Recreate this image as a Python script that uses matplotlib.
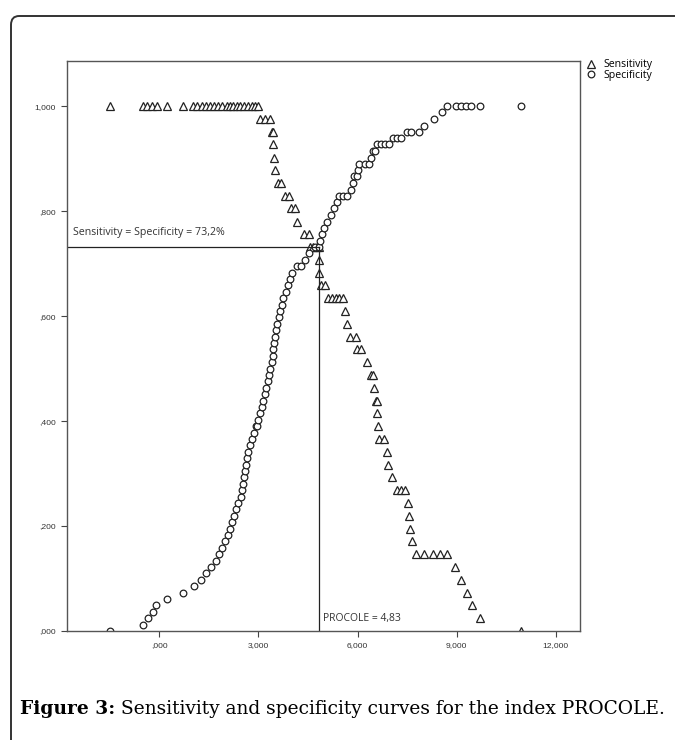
import matplotlib
matplotlib.use("Agg")
import matplotlib.pyplot as plt
from matplotlib.patches import FancyBboxPatch

# sensitivity (triangles)
sens_x = [-1.50, -0.50, -0.38, -0.23, -0.08, 0.23, 0.71, 1.01, 1.13, 1.28, 1.40, 1.53, 1.65,
          1.77, 1.89, 2.04, 2.13, 2.22, 2.34, 2.43, 2.55, 2.67, 2.79, 2.88, 2.98,
          3.04, 3.19, 3.34, 3.41, 3.45, 3.45, 3.47, 3.50, 3.58, 3.68, 3.79, 3.94, 4.00, 4.12,
          4.18, 4.37, 4.52, 4.55, 4.64, 4.76, 4.83, 4.82, 4.83, 4.88, 5.03,
          5.12, 5.24, 5.36, 5.45, 5.55, 5.63, 5.69, 5.76, 5.95, 5.97, 6.12, 6.30, 6.42, 6.48,
          6.51, 6.55, 6.58, 6.60, 6.62, 6.66, 6.80, 6.90, 6.93, 7.05, 7.21, 7.33, 7.45,
          7.54, 7.57, 7.60, 7.66, 7.78, 8.02, 8.29, 8.50, 8.72, 8.96, 9.14, 9.32, 9.47, 9.71, 10.95]
sens_y = [1.0] * 25 + [0.976, 0.976, 0.976, 0.951, 0.951, 0.927, 0.902, 0.878, 0.854, 0.854,
          0.829, 0.829, 0.805, 0.805, 0.780, 0.756, 0.756, 0.732, 0.732, 0.732, 0.732,
          0.707, 0.683, 0.659, 0.659, 0.634, 0.634, 0.634, 0.634, 0.634, 0.610, 0.585,
          0.561, 0.561, 0.537, 0.537, 0.512, 0.488, 0.488, 0.463, 0.439, 0.439, 0.415,
          0.390, 0.366, 0.366, 0.341, 0.317, 0.293, 0.268, 0.268, 0.268, 0.244, 0.220,
          0.195, 0.171, 0.146, 0.146, 0.146, 0.146, 0.146, 0.122, 0.098, 0.073, 0.049,
          0.024, 0.0]

# specificity (circles)
spec_x = [-1.50, -0.50, -0.35, -0.20, -0.11, 0.23, 0.71, 1.04, 1.25, 1.40, 1.56, 1.71,
          1.80, 1.89, 1.98, 2.07, 2.13, 2.19, 2.25, 2.31, 2.37, 2.46, 2.49, 2.52, 2.55,
          2.58, 2.61, 2.64, 2.67, 2.73, 2.79, 2.86, 2.92, 2.95, 2.98, 3.04, 3.10, 3.13,
          3.19, 3.22, 3.28, 3.31, 3.34, 3.40, 3.43, 3.44, 3.46, 3.49, 3.52, 3.55, 3.61,
          3.64, 3.70, 3.73, 3.82, 3.88, 3.97, 4.03, 4.18, 4.30, 4.40, 4.52, 4.70, 4.83,
          4.85, 4.91, 5.00, 5.09, 5.21, 5.30, 5.39, 5.45, 5.57, 5.69, 5.79, 5.85, 5.88,
          5.97, 6.00, 6.06, 6.24, 6.36, 6.42, 6.48, 6.54, 6.60, 6.72, 6.84, 6.96, 7.08,
          7.20, 7.33, 7.51, 7.63, 7.87, 8.02, 8.32, 8.56, 8.72, 8.99, 9.14, 9.29, 9.44,
          9.71, 10.95]
spec_y = [0.0, 0.012, 0.024, 0.037, 0.049, 0.061, 0.073, 0.085, 0.098, 0.110, 0.122, 0.134,
          0.146, 0.159, 0.171, 0.183, 0.195, 0.207, 0.220, 0.232, 0.244, 0.256, 0.268,
          0.280, 0.293, 0.305, 0.317, 0.329, 0.341, 0.354, 0.366, 0.378, 0.390, 0.390,
          0.402, 0.415, 0.427, 0.439, 0.451, 0.463, 0.476, 0.488, 0.500, 0.512, 0.524,
          0.537, 0.549, 0.561, 0.573, 0.585, 0.598, 0.610, 0.622, 0.634, 0.646, 0.659,
          0.671, 0.683, 0.695, 0.695, 0.707, 0.720, 0.732, 0.732, 0.744, 0.756, 0.768,
          0.780, 0.793, 0.805, 0.817, 0.829, 0.829, 0.829, 0.841, 0.854, 0.866, 0.866,
          0.878, 0.890, 0.890, 0.890, 0.902, 0.915, 0.915, 0.927, 0.927, 0.927, 0.927,
          0.939, 0.939, 0.939, 0.951, 0.951, 0.951, 0.963, 0.976, 0.988,
          1.0, 1.0, 1.0, 1.0, 1.0, 1.0, 1.0]

cutoff = 4.83
equal_val = 0.732

x_ticks = [0, 3, 6, 9, 12]
x_labels = [",000", "3,000", "6,000", "9,000", "12,000"]
y_ticks = [0, 0.2, 0.4, 0.6, 0.8, 1.0]
y_labels = [",000", ",200", ",400", ",600", ",800", "1,000"]

W, H = 675, 740
fig = plt.figure(figsize=(W / 100, H / 100), dpi=100)

# rounded outer frame
frame = FancyBboxPatch((11 / W, 1 - 750 / H), 700 / W, 734 / H,
                       boxstyle="round,pad=0,rounding_size=0.012",
                       transform=fig.transFigure, fill=False,
                       edgecolor="#333333", linewidth=1.4)
fig.patches.append(frame)

ax = fig.add_axes([67 / W, 1 - 631 / H, 513 / W, 570 / H])
ax.set_xlim(-2.8, 12.74)
ax.set_ylim(0, 1.086)

ax.plot(sens_x, sens_y, linestyle="none", marker="^", ms=5.6, mfc="white",
        mec="#222222", mew=0.9, label="Sensitivity")
ax.plot(spec_x, spec_y, linestyle="none", marker="o", ms=4.8, mfc="white",
        mec="#222222", mew=0.9, label="Specificity")

ax.plot([-2.8, cutoff], [equal_val, equal_val], color="#222222", lw=0.9)
ax.plot([cutoff, cutoff], [0, equal_val], color="#222222", lw=0.9)

ax.text(-2.62, equal_val + 0.028, "Sensitivity = Specificity = 73,2%",
        fontsize=7.7, family="Open Sans", color="#333333", va="center")
ax.text(cutoff + 0.12, 0.023, "PROCOLE = 4,83",
        fontsize=7.5, family="Open Sans", color="#333333", va="center")

ax.set_xticks(x_ticks)
ax.set_xticklabels(x_labels, family="Liberation Sans", fontsize=6.1, color="#333333")
ax.set_yticks(y_ticks)
ax.set_yticklabels(y_labels, family="Liberation Sans", fontsize=6.1, color="#333333")
ax.tick_params(length=4, width=0.8, color="#444444", pad=4)
for s in ax.spines.values():
    s.set_color("#555555")
    s.set_linewidth(1.0)

ax.legend(loc="upper left", bbox_to_anchor=(581 / W, 1 - 54 / H),
          bbox_transform=fig.transFigure, frameon=False, handlelength=0.8,
          handletextpad=0.8, labelspacing=-0.05, borderpad=0,
          prop={"family": "Open Sans", "size": 7.6})

# caption: bold label followed by plain text
cap1 = fig.text(20 / W, 1 - 709 / H, "Figure 3:", fontsize=13.4, family="DejaVu Serif",
                fontweight="bold", va="center", ha="left")
ax.annotate(" Sensitivity and specificity curves for the index PROCOLE.",
            xy=(1, 0.5), xycoords=cap1, va="center", ha="left",
            fontsize=13.4, family="DejaVu Serif", annotation_clip=False)

fig.savefig("out.png", dpi=100)
